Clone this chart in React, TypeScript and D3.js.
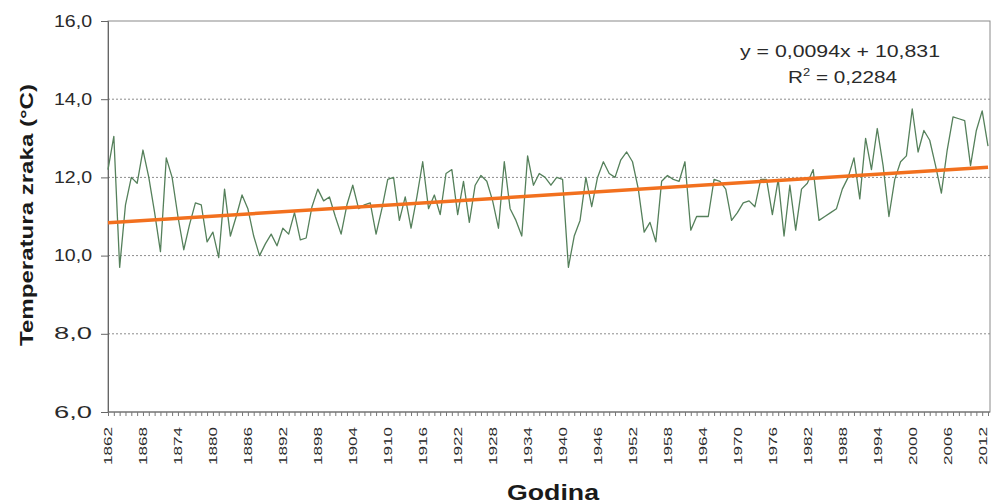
import React, { useEffect, useRef } from "react";
import * as d3 from "d3";

// Godine (kategorije) i srednje godišnje temperature zraka (°C)
const firstYear = 1862;
const temps = [
  12.2, 13.05, 9.7, 11.3, 12.0, 11.85, 12.7, 12.0, 11.1, 10.1,
  12.5, 12.0, 11.0, 10.15, 10.8, 11.35, 11.3, 10.35, 10.6, 9.95,
  11.7, 10.5, 11.0, 11.55, 11.2, 10.5, 10.0, 10.3, 10.55, 10.25,
  10.7, 10.55, 11.1, 10.4, 10.45, 11.25, 11.7, 11.4, 11.5, 11.0,
  10.55, 11.3, 11.8, 11.2, 11.3, 11.35, 10.55, 11.2, 11.95, 12.0,
  10.9, 11.5, 10.7, 11.5, 12.4, 11.2, 11.55, 11.05, 12.1, 12.2,
  11.05, 11.9, 10.85, 11.8, 12.05, 11.9, 11.4, 10.7, 12.4, 11.2,
  10.9, 10.5, 12.55, 11.8, 12.1, 12.0, 11.8, 12.0, 11.95, 9.7,
  10.5, 10.9, 12.0, 11.25, 12.0, 12.4, 12.1, 12.0, 12.45, 12.65,
  12.4, 11.7, 10.6, 10.85, 10.35, 11.9, 12.05, 11.95, 11.9, 12.4,
  10.65, 11.0, 11.0, 11.0, 11.95, 11.9, 11.7, 10.9, 11.1, 11.35,
  11.4, 11.25, 11.95, 11.95, 11.05, 11.95, 10.5, 11.8, 10.65, 11.7,
  11.85, 12.2, 10.9, 11.0, 11.1, 11.2, 11.7, 12.0, 12.5, 11.45,
  13.0, 12.2, 13.25, 12.3, 11.0, 11.95, 12.4, 12.55, 13.75, 12.65,
  13.2, 12.95, 12.3, 11.6, 12.7, 13.55, 13.5, 13.45, 12.3, 13.2,
  13.7, 12.8,
];
const years = temps.map((_, i) => firstYear + i);
const labelYears = years.filter((yr) => (yr - firstYear) % 6 === 0);
const yTicks = [6, 8, 10, 12, 14, 16];
const gridTicks = [8, 10, 12, 14];

// linearni trend (Excel): x = 1..n
const slope = 0.0094;
const intercept = 10.831;
const eqText = "y = 0,0094x + 10,831";
const r2Text = " = 0,2284";

export default function App() {
  const ref = useRef<SVGSVGElement>(null);

  useEffect(() => {
    const svg = d3.select(ref.current);
    svg.selectAll("*").remove();

    const left = 108, right = 990, top = 21, bottom = 412;
    const font = "Arial, 'Liberation Sans', sans-serif";

    const x = d3.scalePoint<number>().domain(years).range([left, 988]);
    const y = d3.scaleLinear().domain([6, 16]).range([bottom, top]);
    const fmt = (d: number) => d3.format(".1f")(d).replace(".", ",");

    // okvir
    svg.append("rect")
      .attr("x", left).attr("y", top)
      .attr("width", right - left).attr("height", bottom - top)
      .attr("fill", "#fff").attr("stroke", "#8a8a8a").attr("stroke-width", 1);

    // mreža
    svg.append("g").selectAll("line").data(gridTicks).join("line")
      .attr("x1", left).attr("x2", right)
      .attr("y1", (d) => y(d)).attr("y2", (d) => y(d))
      .attr("stroke", "#8c8c8c").attr("stroke-dasharray", "2,2");

    // y os
    const yAxis = svg.append("g")
      .attr("transform", `translate(${left},0)`)
      .call(d3.axisLeft(y).tickValues(yTicks).tickSize(7).tickPadding(9).tickFormat((d) => fmt(d as number)));
    yAxis.select(".domain").attr("stroke", "#666");
    yAxis.selectAll(".tick line").attr("stroke", "#666");
    yAxis.selectAll(".tick text")
      .attr("font-family", font)
      .attr("font-size", 16).attr("fill", "#2a2a2a")
      .attr("textLength", 38).attr("lengthAdjust", "spacingAndGlyphs");

    // x os - kvačice za svaku godinu
    const xTicks = svg.append("g")
      .attr("transform", `translate(0,${bottom})`)
      .call(d3.axisBottom(x).tickValues(years).tickSize(4).tickFormat(() => ""));
    xTicks.select(".domain").attr("stroke", "#666").attr("d", `M${left},0H${right}`);
    xTicks.selectAll(".tick line").attr("stroke", "#777");

    // x os - oznake
    const xLabels = svg.append("g")
      .attr("transform", `translate(0,${bottom})`)
      .call(d3.axisBottom(x).tickValues(labelYears).tickSize(0).tickFormat((d) => String(d)));
    xLabels.select(".domain").remove();
    xLabels.selectAll(".tick text")
      .attr("transform", "rotate(-90)")
      .attr("x", -15).attr("y", 0).attr("dy", "0.35em")
      .attr("text-anchor", "end")
      .attr("font-family", font)
      .attr("font-size", 11).attr("fill", "#2a2a2a")
      .attr("textLength", 38).attr("lengthAdjust", "spacingAndGlyphs");

    // podaci
    const line = d3.line<number>()
      .x((_, i) => x(years[i]) as number)
      .y((d) => y(d));
    svg.append("path")
      .datum(temps)
      .attr("d", line)
      .attr("fill", "none")
      .attr("stroke", "#55805b")
      .attr("stroke-width", 1.3)
      .attr("stroke-linejoin", "round");

    // trend
    const n = temps.length;
    svg.append("line")
      .attr("x1", x(years[0]) as number).attr("y1", y(intercept + slope * 1))
      .attr("x2", x(years[n - 1]) as number).attr("y2", y(intercept + slope * n))
      .attr("stroke", "#f2701e").attr("stroke-width", 3.5);

    // jednadžba
    svg.append("text")
      .attr("x", 840).attr("y", 57).attr("text-anchor", "middle")
      .attr("font-family", font)
      .attr("font-size", 16).attr("fill", "#2a2a2a")
      .attr("textLength", 200).attr("lengthAdjust", "spacingAndGlyphs")
      .text(eqText);
    const r2 = svg.append("text")
      .attr("x", 788).attr("y", 83)
      .attr("font-family", font)
      .attr("font-size", 16).attr("fill", "#2a2a2a")
      .attr("textLength", 109).attr("lengthAdjust", "spacingAndGlyphs");
    r2.append("tspan").text("R");
    r2.append("tspan").attr("font-size", 10).attr("dy", -7).text("2");
    r2.append("tspan").attr("dy", 7).text(r2Text);

    // naslovi osi
    svg.append("text")
      .attr("transform", "translate(33,215) rotate(-90)")
      .attr("text-anchor", "middle")
      .attr("font-family", font)
      .attr("font-size", 19).attr("font-weight", "bold").attr("fill", "#1a1a1a")
      .attr("textLength", 262).attr("lengthAdjust", "spacingAndGlyphs")
      .text("Temperatura zraka (°C)");
    svg.append("text")
      .attr("x", 553).attr("y", 500).attr("text-anchor", "middle")
      .attr("font-family", font)
      .attr("font-size", 22).attr("font-weight", "bold").attr("fill", "#1a1a1a")
      .attr("textLength", 92).attr("lengthAdjust", "spacingAndGlyphs")
      .text("Godina");
  }, []);

  return (
    <svg
      ref={ref}
      width={994}
      height={504}
      style={{ position: "absolute", left: 0, top: 0, background: "#fff" }}
    />
  );
}
